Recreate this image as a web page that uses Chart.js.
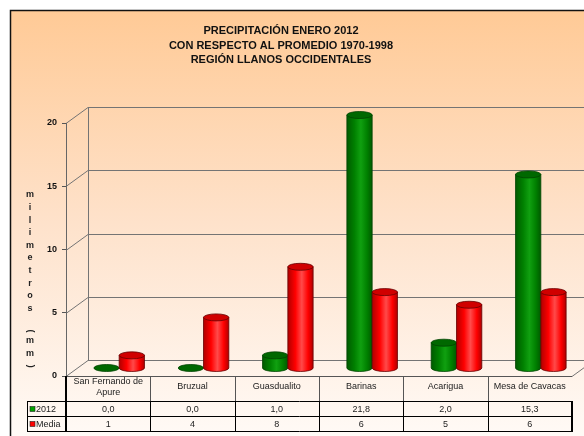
<!DOCTYPE html>
<html lang="es">
<head>
<meta charset="UTF-8">
<title>Precipitación enero 2012</title>
<style>
  html, body { margin: 0; padding: 0; background: #fff; }
  canvas { display: block; }
</style>
</head>
<body>
<canvas id="lluvia" width="584" height="436"></canvas>
<script src="https://cdn.jsdelivr.net/npm/chart.js"></script>
<script>
// datos de la región
const estaciones = [['San Fernando de', 'Apure'], 'Bruzual', 'Guasdualito', 'Barinas', 'Acarigua', 'Mesa de Cavacas'];
const lluvia2012 = [0.0, 0.0, 1.0, 21.8, 2.0, 15.3];
const lluviaMedia = [1, 4, 8, 6, 5, 6];
const series = ['2012', 'Media'];
const titulo = ['PRECIPITACIÓN ENERO 2012', 'CON RESPECTO AL PROMEDIO 1970-1998', 'REGIÓN LLANOS OCCIDENTALES'];
const tituloEje = 'milimetros (mm)';
const ejeMax = 20;
const ejePaso = 5;

const FUENTE = '"Liberation Sans", Arial, sans-serif';
const PROF = { x: 22, y: -16 };   // profundidad del piso/pared
const colores = [
  { borde: '#004400', oscuro: '#005a00', medio: '#008000', claro: '#10a010', tapa: '#006800', marca: '#00a000' },
  { borde: '#660000', oscuro: '#b00000', medio: '#ff0000', claro: '#ff4a4a', tapa: '#d00000', marca: '#ff0000' }
];

const fondo = {
  id: 'fondo',
  beforeDraw(chart) {
    const c = chart.ctx;
    c.save();
    c.fillStyle = '#fff';
    c.fillRect(0, 0, chart.width, chart.height);
    const g = c.createLinearGradient(0, 10, 0, 436);
    g.addColorStop(0, '#ffca96');
    g.addColorStop(0.5, '#fee2cb');
    g.addColorStop(1, '#fffaf6');
    c.fillStyle = g;
    c.fillRect(10, 10, chart.width, chart.height);
    c.strokeStyle = '#111';
    c.lineWidth = 1.5;
    c.beginPath();
    c.moveTo(10.5, chart.height + 2);
    c.lineTo(10.5, 10.5);
    c.lineTo(chart.width + 2, 10.5);
    c.stroke();

    // título
    c.fillStyle = '#111';
    c.font = 'bold 11px ' + FUENTE;
    c.textAlign = 'center';
    c.textBaseline = 'middle';
    titulo.forEach((t, i) => c.fillText(t, 281, 31 + i * 14.5));

    // título del eje vertical, letra por letra
    c.font = 'bold 9px ' + FUENTE;
    c.fillStyle = '#222';
    let y = 195;
    for (const ch of tituloEje) {
      if (ch === ' ') { y += 10; continue; }
      if (ch === '(' || ch === ')') {
        c.save();
        c.translate(30, y);
        c.rotate(Math.PI / 2);
        c.fillText(ch, 0, 0);
        c.restore();
        y += 10;
      } else {
        c.fillText(ch, 30, y);
        y += 12.6;
      }
    }

    // paredes y piso
    const a = chart.chartArea;
    const ys = chart.scales.y;
    c.strokeStyle = '#747474';
    c.lineWidth = 1;
    for (let v = 0; v <= ejeMax; v += ejePaso) {
      const py = Math.round(ys.getPixelForValue(v)) + 0.5;
      c.beginPath();
      c.moveTo(a.left, py);
      c.lineTo(a.left + PROF.x, py + PROF.y);
      c.lineTo(a.right + PROF.x, py + PROF.y);
      c.stroke();
    }
    const top = Math.round(ys.getPixelForValue(ejeMax)) + 0.5;
    const base = Math.round(ys.getPixelForValue(0)) + 0.5;
    c.beginPath();
    c.moveTo(a.left + PROF.x + 0.5, top + PROF.y);
    c.lineTo(a.left + PROF.x + 0.5, base + PROF.y);
    c.moveTo(a.right, base);
    c.lineTo(a.right + PROF.x, base + PROF.y);
    c.stroke();
    c.restore();
  }
};

function cilindro(c, x, w, yTop, yBase, col) {
  const rx = w / 2, ry = 3.5;
  c.save();
  c.lineWidth = 0.8;
  c.strokeStyle = col.borde;
  if (yBase - yTop > 0.5) {
    const g = c.createLinearGradient(x - rx, 0, x + rx, 0);
    g.addColorStop(0, col.oscuro);
    g.addColorStop(0.3, col.medio);
    g.addColorStop(0.55, col.claro);
    g.addColorStop(0.8, col.medio);
    g.addColorStop(1, col.oscuro);
    c.fillStyle = g;
    c.beginPath();
    c.moveTo(x - rx, yTop);
    c.lineTo(x - rx, yBase);
    c.ellipse(x, yBase, rx, ry, 0, Math.PI, 0, true);
    c.lineTo(x + rx, yTop);
    c.closePath();
    c.fill();
    c.stroke();
  }
  c.fillStyle = col.tapa;
  c.beginPath();
  c.ellipse(x, yTop, rx, ry, 0, 0, Math.PI * 2);
  c.fill();
  c.stroke();
  c.restore();
}

const cilindros = {
  id: 'cilindros',
  afterDatasetsDraw(chart) {
    const c = chart.ctx;
    const ys = chart.scales.y;
    const dx = PROF.x / 2, dy = PROF.y / 2;
    const base = ys.getPixelForValue(0) + dy;
    chart.data.datasets.forEach((ds, di) => {
      const meta = chart.getDatasetMeta(di);
      meta.data.forEach((el, i) => {
        const v = Math.min(ds.data[i], ejeMax);
        const yTop = ys.getPixelForValue(v) + dy;
        cilindro(c, el.x + dx, el.width, yTop, base, colores[di]);
      });
    });
  }
};

const tabla = {
  id: 'tabla',
  afterDraw(chart) {
    const c = chart.ctx;
    const a = chart.chartArea;
    const xs = chart.scales.x;
    const n = estaciones.length;
    const paso = (a.right - a.left) / n;
    const filas = [a.bottom, 401, 416, 431];
    const izq = 27;
    c.save();
    // bordes
    c.strokeStyle = '#555';
    c.lineWidth = 1;
    c.beginPath();
    c.moveTo(a.left, a.bottom + 0.5);
    c.lineTo(a.right, a.bottom + 0.5);
    for (let i = 1; i < n; i++) {
      const x = Math.round(a.left + i * paso) + 0.5;
      c.moveTo(x, filas[0]);
      c.lineTo(x, filas[1]);
    }
    c.stroke();
    c.strokeStyle = '#000';
    c.beginPath();
    for (let r = 1; r < filas.length; r++) {
      c.moveTo(izq, filas[r] + 0.5);
      c.lineTo(a.right, filas[r] + 0.5);
    }
    c.moveTo(izq + 0.5, filas[1]);
    c.lineTo(izq + 0.5, filas[3]);
    for (let i = 1; i < n; i++) {
      const x = Math.round(a.left + i * paso) + 0.5;
      c.moveTo(x, filas[1]);
      c.lineTo(x, filas[3]);
    }
    c.stroke();
    c.lineWidth = 2;
    c.beginPath();
    c.moveTo(a.left, filas[0]);
    c.lineTo(a.left, filas[3] + 1);
    c.moveTo(a.right, filas[1]);
    c.lineTo(a.right, filas[3] + 1);
    c.stroke();

    // nombres de estaciones
    c.fillStyle = '#222';
    c.font = '9px ' + FUENTE;
    c.textAlign = 'center';
    c.textBaseline = 'middle';
    estaciones.forEach((e, i) => {
      const x = xs.getPixelForValue(i);
      const lineas = Array.isArray(e) ? e : [e];
      const y0 = 387 - (lineas.length - 1) * 5.5;
      lineas.forEach((l, k) => c.fillText(l, x, y0 + k * 11));
    });

    // valores
    const filasDatos = [
      lluvia2012.map(v => v.toFixed(1).replace('.', ',')),
      lluviaMedia.map(v => String(v))
    ];
    filasDatos.forEach((fila, r) => {
      const y = (filas[r + 1] + filas[r + 2]) / 2 + 1;
      fila.forEach((t, i) => c.fillText(t, xs.getPixelForValue(i), y));
      // leyenda
      c.fillStyle = colores[r].marca;
      c.fillRect(izq + 3, y - 3, 5, 5);
      c.strokeStyle = '#222';
      c.lineWidth = 0.6;
      c.strokeRect(izq + 3, y - 3, 5, 5);
      c.fillStyle = '#222';
      c.textAlign = 'left';
      c.fillText(series[r], izq + 9, y);
      c.textAlign = 'center';
    });
    c.restore();
  }
};

new Chart(document.getElementById('lluvia'), {
  type: 'bar',
  data: {
    labels: estaciones,
    datasets: [
      { label: series[0], data: lluvia2012, backgroundColor: 'rgba(0,0,0,0)' },
      { label: series[1], data: lluviaMedia, backgroundColor: 'rgba(0,0,0,0)' }
    ]
  },
  options: {
    responsive: false,
    animation: false,
    events: [],
    layout: { padding: { left: 0, top: 123, right: 12, bottom: 60 } },
    datasets: { bar: { barPercentage: 1, categoryPercentage: 0.6 } },
    plugins: { legend: { display: false }, title: { display: false }, tooltip: { enabled: false } },
    scales: {
      x: { display: false },
      y: {
        min: 0,
        max: ejeMax,
        afterFit(scale) { scale.width = 66; },
        ticks: {
          stepSize: ejePaso,
          color: '#111',
          padding: 5,
          font: { family: FUENTE, size: 9, weight: 'bold' }
        },
        grid: { drawOnChartArea: false, drawTicks: true, tickLength: 4, color: '#555' },
        border: { display: true, color: '#666' }
      }
    }
  },
  plugins: [fondo, cilindros, tabla]
});
</script>
</body>
</html>
